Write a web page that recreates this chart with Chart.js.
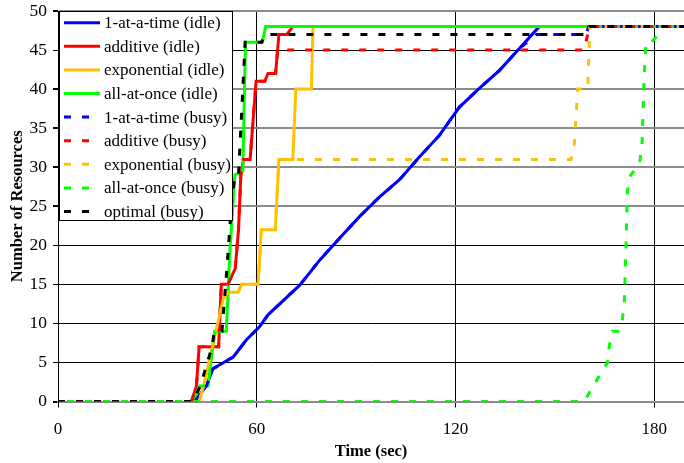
<!DOCTYPE html>
<html><head><meta charset="utf-8">
<script src="https://cdn.jsdelivr.net/npm/chart.js@4.4.1/dist/chart.umd.min.js"></script>
<style>html,body{margin:0;padding:0;background:#fff;}</style>
</head><body>
<canvas id="c" width="684" height="463" style="display:block;width:684px;height:463px"></canvas>
<script>
// ---- data ----
const xTickValues = [0, 60, 120, 180];
const yTickValues = [0, 5, 10, 15, 20, 25, 30, 35, 40, 45, 50];
const labels = ['1-at-a-time (idle)', 'additive (idle)', 'exponential (idle)', 'all-at-once (idle)',
  '1-at-a-time (busy)', 'additive (busy)', 'exponential (busy)', 'all-at-once (busy)', 'optimal (busy)'];

const oneIdleT = [41.3, 44.8, 46.8, 50.4, 52.9, 56.9, 60.9, 63.4, 73, 79, 85, 91.1, 97.1, 103.1, 109.1, 115.2, 121.2, 127.2, 133.3, 139.3, 145.3, 189];
const oneIdleY = [0, 2, 4.2, 5.1, 5.7, 7.9, 9.6, 11.1, 14.9, 18.1, 20.9, 23.7, 26.2, 28.4, 31.3, 34.1, 37.7, 40.1, 42.4, 45.2, 48, 48];

const addIdleT = [40.3, 41.8, 42.6, 48.5, 49.3, 51.3, 53.5, 54.5, 55.2, 56, 58, 59.8, 62.4, 63.4, 65.7, 66.7, 69.1, 70.9, 189];
const addIdleY = [0, 2, 7, 7, 15, 15, 17, 22, 29, 31, 31, 41, 41, 42, 42, 47, 47, 48, 48];

const expIdleT = [42.6, 44, 49.8, 51.3, 54.4, 55.4, 60.4, 61.4, 65.6, 66.7, 70.9, 71.8, 76.5, 77, 189];
const expIdleY = [0, 2, 13, 14, 14, 15, 15, 22, 22, 31, 31, 40, 40, 48, 48];

const allIdleT = [40.8, 42.8, 45.3, 47.3, 50.8, 52, 53.4, 55.8, 56.6, 61.7, 62.7, 189];
const allIdleY = [0, 2, 2, 9, 9, 20, 29, 29.5, 46, 46, 48, 48];

const oneBusyT = [41.3, 44.8, 46.8, 50.4, 52.9, 56.9, 60.9, 63.4, 73, 79, 85, 91.1, 97.1, 103.1, 109.1, 115.2, 121.2, 127.2, 133.3, 139.3, 144.5, 159.3, 160.3, 189];
const oneBusyY = [0, 2, 4.2, 5.1, 5.7, 7.9, 9.6, 11.1, 14.9, 18.1, 20.9, 23.7, 26.2, 28.4, 31.3, 34.1, 37.7, 40.1, 42.4, 45.2, 47, 47, 48, 48];

const addBusyT = [40.3, 41.8, 42.6, 48.5, 49.3, 51.3, 53.5, 54.5, 55.2, 56, 58, 59.8, 62.4, 63.4, 65.7, 66.3, 158.9, 160.4, 189];
const addBusyY = [0, 2, 7, 7, 15, 15, 17, 22, 29, 31, 31, 41, 41, 42, 42, 45, 45, 48, 48];

const expBusyT = [42.6, 44, 49.8, 51.3, 54.4, 55.4, 60.4, 61.4, 65.6, 66.7, 154.9, 155.9, 156.9, 159.9, 160.6, 189];
const expBusyY = [0, 2, 13, 14, 14, 15, 15, 22, 22, 31, 31, 33, 40, 40, 48, 48];

const allBusyT = [0, 158.9, 160.9, 165.9, 166.4, 167.4, 169.2, 170.4, 171, 171.5, 171.9, 172.9, 175.5, 176.3, 177, 177.5, 179, 181.5, 182, 189];
const allBusyY = [0, 0, 1.5, 5, 7, 9, 9, 10.5, 13, 20, 27, 29, 30.3, 32.6, 42, 46, 46, 47, 48, 48];

const optBusyT = [0, 40.8, 43, 46.5, 47.2, 49.5, 51, 52.5, 53.5, 54.5, 55.8, 56.5, 61.5, 62.5, 159.5, 160.5, 189];
const optBusyY = [0, 0, 2, 7, 9, 9, 17, 26, 29, 29, 40, 46, 46, 47, 47, 48, 48];

// ---- build chart ----
const pts = (t, y) => t.map((v, i) => ({x: v, y: y[i]}));
const serif = '"Liberation Serif", "Times New Roman", serif';
const BLUE = '#0000ff', RED = '#ff0000', ORANGE = '#ffc000', GREEN = '#00ff00', BLACK = '#000000';
const DASH = [7, 11];

const series = [
  [oneIdleT, oneIdleY, BLUE, null, 9, 0],
  [addIdleT, addIdleY, RED, null, 8, 0],
  [expIdleT, expIdleY, ORANGE, null, 7, 0],
  [allIdleT, allIdleY, GREEN, null, 6, 0],
  [oneBusyT, oneBusyY, BLUE, DASH, 4, 0],
  [addBusyT, addBusyY, RED, DASH, 3, 0],
  [expBusyT, expBusyY, ORANGE, DASH, 2, 0],
  [allBusyT, allBusyY, GREEN, DASH, 1, 9],
  [optBusyT, optBusyY, BLACK, DASH, 0, 0]
];

const datasets = series.map((s, i) => ({
  label: labels[i],
  data: pts(s[0], s[1]),
  borderColor: s[2],
  backgroundColor: s[2],
  borderDash: s[3] || [],
  borderDashOffset: s[5],
  borderWidth: 3,
  borderCapStyle: 'butt',
  borderJoinStyle: 'miter',
  showLine: true,
  fill: false,
  pointRadius: 0,
  tension: 0,
  order: s[4]
}));

const boxLegend = {
  id: 'boxLegend',
  afterDatasetsDraw(chart) {
    const ctx = chart.ctx;
    ctx.save();
    const x0 = 59, y0 = 11, w = 173, h = 209;
    ctx.fillStyle = '#fff';
    ctx.fillRect(x0, y0, w, h);
    ctx.strokeStyle = '#000';
    ctx.lineWidth = 1;
    ctx.strokeRect(x0 + 0.5, y0 + 0.5, w, h);
    chart.data.datasets.forEach((ds, i) => {
      const cy = 22.7 + i * 23.6;
      ctx.beginPath();
      ctx.setLineDash(ds.borderDash || []);
      ctx.lineDashOffset = 0;
      ctx.lineCap = 'butt';
      ctx.strokeStyle = ds.borderColor;
      ctx.lineWidth = 3;
      ctx.moveTo(64, cy);
      ctx.lineTo(100, cy);
      ctx.stroke();
      ctx.setLineDash([]);
      ctx.fillStyle = '#000';
      ctx.font = '17px ' + serif;
      ctx.textBaseline = 'middle';
      ctx.textAlign = 'left';
      ctx.fillText(ds.label, 104, cy + 1);
    });
    ctx.restore();
  }
};

const grayY = v => [0, 25, 30, 35, 40, 50].includes(v);

const chart = new Chart(document.getElementById('c'), {
  type: 'scatter',
  data: {datasets},
  plugins: [boxLegend],
  options: {
    responsive: false,
    animation: false,
    devicePixelRatio: 1,
    layout: {padding: {top: 11, right: 0, left: 0, bottom: 0}},
    plugins: {legend: {display: false}, tooltip: {enabled: false}},
    scales: {
      x: {
        type: 'linear', min: 0, max: 189,
        afterBuildTicks: s => { s.ticks = xTickValues.map(v => ({value: v})); },
        afterFit: s => { s.height = 61.5; },
        grid: {color: '#000', lineWidth: 1, tickLength: 6, tickColor: '#000', drawOnChartArea: true},
        border: {display: true, color: '#8c8c8c', width: 2},
        ticks: {color: '#000', font: {family: serif, size: 17}, padding: 12, maxRotation: 0, autoSkip: false},
        title: {display: true, text: 'Time (sec)', color: '#000', font: {family: serif, size: 16.5, weight: 'bold'}, padding: {top: 0, bottom: 1}}
      },
      y: {
        min: 0, max: 50,
        afterBuildTicks: s => { s.ticks = yTickValues.map(v => ({value: v})); },
        afterFit: s => { s.width = 58; },
        grid: {
          color: c => grayY(c.tick && c.tick.value) ? '#8c8c8c' : '#000',
          lineWidth: c => grayY(c.tick && c.tick.value) ? 2 : 1,
          tickLength: 5, tickColor: '#000'
        },
        border: {display: true, color: '#000', width: 1},
        ticks: {color: '#000', font: {family: serif, size: 17.5, lineHeight: 0.4}, padding: 6, autoSkip: false},
        title: {display: true, text: 'Number of Resources', color: '#000', font: {family: serif, size: 16.5, weight: 'bold'}, padding: {top: 8, bottom: 0}}
      }
    }
  }
});
// keep the plot area top at the reference position
const dTop = chart.chartArea.top - 11;
if (Math.abs(dTop) > 0.2) {
  chart.options.layout.padding.top = Math.max(0, 11 - dTop);
  chart.update();
}
</script>
</body></html>
